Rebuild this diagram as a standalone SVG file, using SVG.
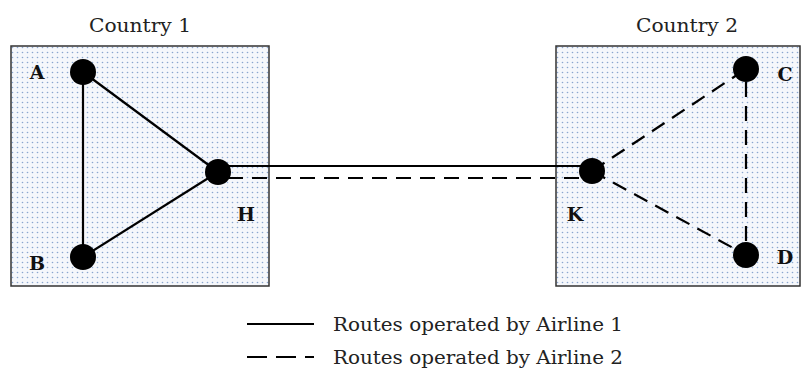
<svg xmlns="http://www.w3.org/2000/svg" width="804" height="369" viewBox="0 0 804 369">
<defs>
<pattern id="dots" x="0" y="0" width="5" height="5" patternUnits="userSpaceOnUse">
<rect width="5" height="5" fill="#f5f7fb"/>
<circle cx="2.5" cy="2.5" r="0.8" fill="#8aa6d0"/>
</pattern>
<style>
.box{fill:url(#dots);stroke:#333;stroke-width:1.5}
.node{fill:#000}
.solid{stroke:#000;stroke-width:2.2;fill:none}
.dash{stroke:#000;stroke-width:2.2;fill:none;stroke-dasharray:15 9}
.lbl{font-family:"DejaVu Serif","Liberation Serif",serif;font-weight:bold;font-size:19px;fill:#111}
.title{font-family:"DejaVu Serif","Liberation Serif",serif;font-size:19px;fill:#222}
.leg{font-family:"DejaVu Serif","Liberation Serif",serif;font-size:19px;fill:#222}
</style>
</defs>
<g id="country1">
<rect class="box" x="11" y="46" width="258" height="240"/>
<text class="title" x="89" y="32" textLength="102" lengthAdjust="spacingAndGlyphs">Country 1</text>
</g>
<g id="country2">
<rect class="box" x="556" y="46" width="244" height="240"/>
<text class="title" x="636" y="32" textLength="102" lengthAdjust="spacingAndGlyphs">Country 2</text>
</g>
<g id="connectors">
<line class="solid" x1="83" y1="72" x2="83" y2="257"/>
<line class="solid" x1="83" y1="72" x2="218" y2="172"/>
<line class="solid" x1="83" y1="257" x2="218" y2="172"/>
<line class="solid" x1="218" y1="166" x2="592" y2="166"/>
<line class="dash" x1="228" y1="178" x2="582" y2="178"/>
<line class="dash" x1="592" y1="171" x2="746" y2="69"/>
<line class="dash" x1="592" y1="171" x2="746" y2="255"/>
<line class="dash" x1="746" y1="82" x2="746" y2="245"/>
</g>
<g id="A"><circle class="node" cx="83" cy="72" r="13"/><text class="lbl" x="37" y="79" text-anchor="middle">A</text></g>
<g id="B"><circle class="node" cx="83" cy="257" r="13"/><text class="lbl" x="37" y="270" text-anchor="middle">B</text></g>
<g id="H"><circle class="node" cx="218" cy="172" r="13"/><text class="lbl" x="246" y="221" text-anchor="middle">H</text></g>
<g id="K"><circle class="node" cx="592" cy="171" r="13"/><text class="lbl" x="575" y="221" text-anchor="middle">K</text></g>
<g id="C"><circle class="node" cx="746" cy="69" r="13"/><text class="lbl" x="785" y="81" text-anchor="middle">C</text></g>
<g id="D"><circle class="node" cx="746" cy="255" r="13"/><text class="lbl" x="785" y="264" text-anchor="middle">D</text></g>
<g id="legend">
<line class="solid" x1="247" y1="324" x2="314" y2="324"/>
<text class="leg" x="333" y="331" textLength="290" lengthAdjust="spacingAndGlyphs">Routes operated by Airline 1</text>
<line class="solid" x1="247" y1="357" x2="314" y2="357" stroke-dasharray="20 9"/>
<text class="leg" x="333" y="364" textLength="290" lengthAdjust="spacingAndGlyphs">Routes operated by Airline 2</text>
</g>
</svg>
